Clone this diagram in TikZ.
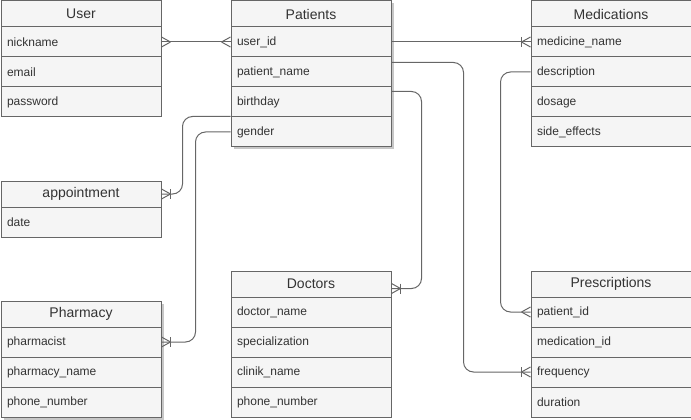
\documentclass[tikz,border=0pt]{standalone}
\usepackage{fontspec}
\setmainfont{Liberation Sans}
\usetikzlibrary{calc}
\definecolor{fillc}{HTML}{F5F5F5}
\definecolor{strokec}{HTML}{666666}
\definecolor{textc}{HTML}{333333}
\newcommand\crowfoot[2]{%
  \draw[conn] ($(#1)+(#2*9,0)$) -- ($(#1)+(0,-5)$)
              ($(#1)+(#2*9,0)$) -- ($(#1)+(0,5)$);}
\newcommand\crowbar[2]{%
  \crowfoot{#1}{#2}%
  \draw[conn] ($(#1)+(#2*9,-5)$) -- ($(#1)+(#2*9,5)$);}
\begin{document}
\begin{tikzpicture}[x=0.75pt,y=-0.75pt,
  hdr/.style={draw=strokec, fill=fillc, line width=0.75pt, minimum width=120pt,
    minimum height=19.5pt, anchor=north west, text=textc,
    font=\fontsize{10.5}{12}\selectfont, inner sep=0pt},
  fld/.style={draw=strokec, fill=fillc, line width=0.75pt, minimum height=22.5pt,
    anchor=north west, text=textc, font=\fontsize{9}{11}\selectfont,
    text width=111pt, align=left, inner xsep=4.5pt, inner ysep=0pt},
  conn/.style={draw=strokec, line width=0.75pt},
  shade/.style={fill=black!22, draw=none}]
\useasboundingbox (-0.5,-0.5) rectangle (690.5,419.5);

% shadows
\fill[shade] (233,3) rectangle (393,149);
\fill[shade] (3,303) rectangle (163,419);

% User
\node[hdr] (user) at (0,0) {User};
\node[fld] (user-1) at (0,26) {nickname};
\node[fld] (user-2) at (0,56) {email};
\node[fld] (user-3) at (0,86) {password};

% Patients
\node[hdr] (pat) at (230,0) {Patients};
\node[fld] (pat-1) at (230,26) {user\_id};
\node[fld] (pat-2) at (230,56) {patient\_name};
\node[fld] (pat-3) at (230,86) {birthday};
\node[fld] (pat-4) at (230,116) {gender};

% Medications
\node[hdr] (med) at (530,0) {Medications};
\node[fld] (med-1) at (530,26) {medicine\_name};
\node[fld] (med-2) at (530,56) {description};
\node[fld] (med-3) at (530,86) {dosage};
\node[fld] (med-4) at (530,116) {side\_effects};

% appointment
\node[hdr] (appt) at (0,180) {appointment};
\node[fld] (appt-1) at (0,206) {date};

% Pharmacy
\node[hdr] (ph) at (0,300) {Pharmacy};
\node[fld] (ph-1) at (0,326) {pharmacist};
\node[fld] (ph-2) at (0,356) {pharmacy\_name};
\node[fld] (ph-3) at (0,386) {phone\_number};

% Doctors
\node[hdr] (doc) at (230,270) {Doctors};
\node[fld] (doc-1) at (230,296) {doctor\_name};
\node[fld] (doc-2) at (230,326) {specialization};
\node[fld] (doc-3) at (230,356) {clinik\_name};
\node[fld] (doc-4) at (230,386) {phone\_number};

% Prescriptions
\node[hdr] (pre) at (530,270) {Prescriptions};
\node[fld] (pre-1) at (530,296) {patient\_id};
\node[fld] (pre-2) at (530,326) {medication\_id};
\node[fld] (pre-3) at (530,356) {frequency};
\node[fld] (pre-4) at (530,386) {duration};

% connectors
\draw[conn] (user-1.east) -- (pat-1.west);
\crowfoot{user-1.east}{1}
\crowfoot{pat-1.west}{-1}

\draw[conn] (pat-1.east) -- (med-1.west);
\crowbar{med-1.west}{-1}

\coordinate (c3) at ($(pat-2.north east)+(0,6)$);
\draw[conn, rounded corners=7.5pt] (c3) -- ++(72,0) |- (pre-3.west);
\crowbar{pre-3.west}{-1}

\coordinate (c4a) at ($(pat-3.north east)+(0,5)$);
\coordinate (c4b) at ($(doc.north east)+(0,18)$);
\draw[conn, rounded corners=7.5pt] (c4a) -- ++(30,0) |- (c4b);
\crowbar{c4b}{1}

\draw[conn, rounded corners=7.5pt] (med-2.west) -- ++(-30,0) |- (pre-1.west);
\crowfoot{pre-1.west}{-1}

\draw[conn, rounded corners=7.5pt] (pat-4.north west) -- ++(-48,0) |- (appt.east);
\crowbar{appt.east}{1}

\draw[conn, rounded corners=7.5pt] (pat-4.west) -- ++(-35,0) |- (ph-1.east);
\crowbar{ph-1.east}{1}
\end{tikzpicture}
\end{document}
